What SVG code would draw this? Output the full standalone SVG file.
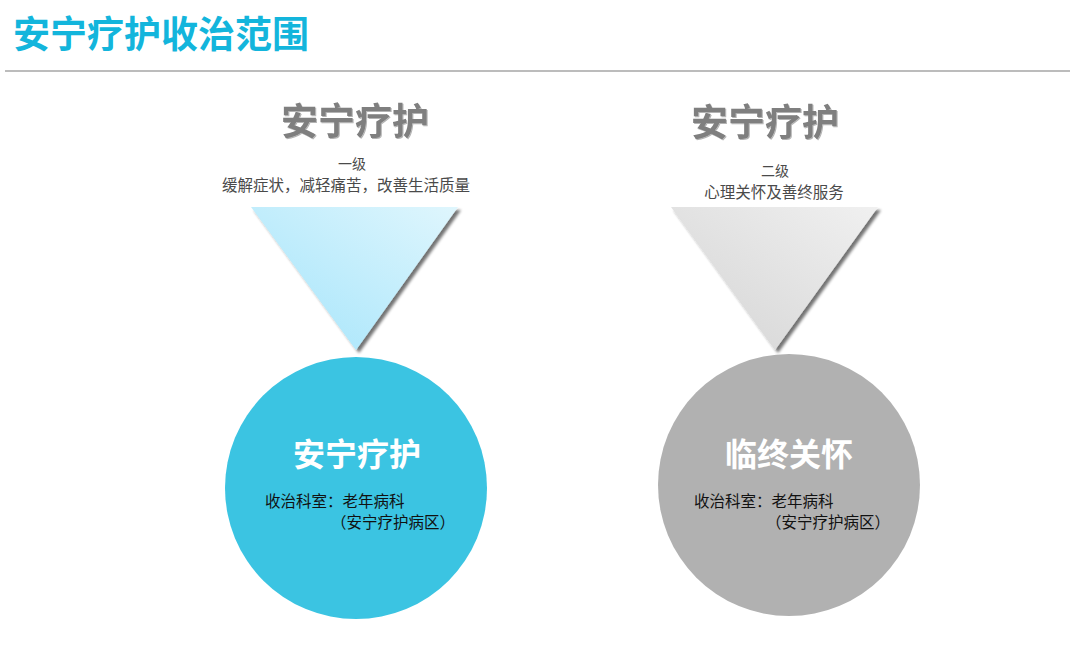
<svg xmlns="http://www.w3.org/2000/svg" width="1070" height="645" viewBox="0 0 1070 645">
<defs>
<linearGradient id="gBlue" x1="0" y1="1" x2="1" y2="0">
<stop offset="0" stop-color="#a3e4fb"/>
<stop offset="1" stop-color="#dff6fd"/>
</linearGradient>
<linearGradient id="gGray" x1="0" y1="1" x2="1" y2="0">
<stop offset="0" stop-color="#d4d4d4"/>
<stop offset="1" stop-color="#f0f0f0"/>
</linearGradient>
<filter id="sh" x="-10%" y="-10%" width="130%" height="130%">
<feGaussianBlur in="SourceAlpha" stdDeviation="1.5"/>
<feOffset dx="3" dy="3" result="b"/>
<feComponentTransfer><feFuncA type="linear" slope="0.55"/></feComponentTransfer>
<feMerge><feMergeNode/><feMergeNode in="SourceGraphic"/></feMerge>
</filter>
<filter id="tsh" x="-5%" y="-5%" width="110%" height="120%">
<feOffset in="SourceAlpha" dx="1" dy="1"/>
<feComponentTransfer><feFuncA type="linear" slope="0.3"/></feComponentTransfer>
<feMerge><feMergeNode/><feMergeNode in="SourceGraphic"/></feMerge>
</filter>
</defs>
<style>
text{font-family:"Noto Sans CJK SC","Noto Sans CJK JP",sans-serif;}
.title{font-size:37px;font-weight:bold;fill:#13b5dc;}
.head{font-size:37px;font-weight:bold;fill:#7f7f7f;text-anchor:middle;}
.sub{font-size:15.5px;fill:#4a4a4a;text-anchor:middle;}
.lvl{font-size:14px;fill:#4a4a4a;text-anchor:middle;}
.ctitle{font-size:32px;font-weight:bold;fill:#ffffff;text-anchor:middle;}
.body{font-size:15.5px;fill:#111111;}
</style>
<rect width="1070" height="645" fill="#ffffff"/>
<g id="header">
<text class="title" x="13" y="48">安宁疗护收治范围</text>
<line x1="5" y1="71" x2="1070" y2="71" stroke="#a6a6a6" stroke-width="1.5"/>
</g>
<g id="left-heading">
<text class="head" x="355" y="135" filter="url(#tsh)">安宁疗护</text>
<text class="lvl" x="352" y="169">一级</text>
<text class="sub" x="346" y="191">缓解症状，减轻痛苦，改善生活质量</text>
</g>
<g id="left-triangle">
<polygon points="251,207 458,207 356,350" fill="url(#gBlue)" filter="url(#sh)"/>
</g>
<g id="left-circle">
<circle cx="356" cy="488" r="131" fill="#3bc4e2"/>
<text class="ctitle" x="357" y="466">安宁疗护</text>
<text class="body" x="265" y="507">收治科室：老年病科</text>
<text class="body" x="331" y="528">（安宁疗护病区）</text>
</g>
<g id="right-heading">
<text class="head" x="765" y="136" filter="url(#tsh)">安宁疗护</text>
<text class="lvl" x="775" y="176">二级</text>
<text class="sub" x="774" y="198">心理关怀及善终服务</text>
</g>
<g id="right-triangle">
<polygon points="671,207 878,207 775,350" fill="url(#gGray)" filter="url(#sh)"/>
</g>
<g id="right-circle">
<circle cx="789" cy="485" r="131" fill="#b1b1b1"/>
<text class="ctitle" x="789" y="466">临终关怀</text>
<text class="body" x="694" y="507">收治科室：老年病科</text>
<text class="body" x="766" y="528">（安宁疗护病区）</text>
</g>
<g id="connectors"></g>
</svg>
